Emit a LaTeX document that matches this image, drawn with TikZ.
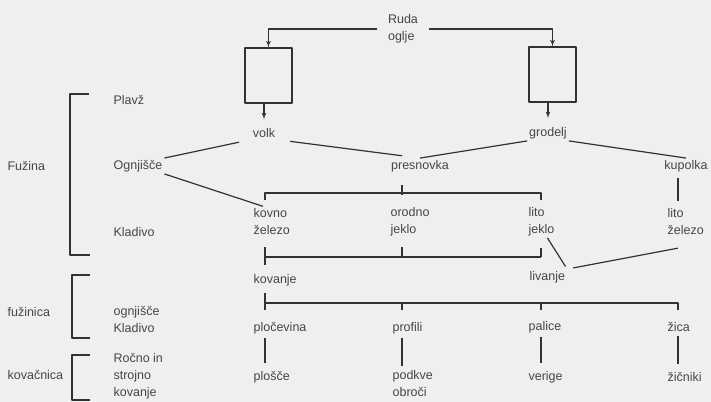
\documentclass[tikz,border=0pt]{standalone}
\usepackage{fontspec}
\setmainfont{Liberation Sans}
\usepackage{tikz}
\usetikzlibrary{arrows,shapes}
\definecolor{bggray}{RGB}{239,239,237}
\definecolor{inkgray}{RGB}{50,50,50}
\definecolor{txtgray}{RGB}{70,70,70}

\begin{document}
\begin{tikzpicture}[>=latex',line join=bevel,line width=1.2bp,draw=inkgray,
  every node/.style={font=\fontsize{12.5bp}{17bp}\selectfont,text=txtgray,inner sep=1.5bp},
  lbl/.style={anchor=west,align=left},
  furnace/.style={draw=inkgray,minimum width=47bp,minimum height=55bp},]
%%
\fill[bggray] (0,0) rectangle (711bp,402bp);
\useasboundingbox (0,0) rectangle (711bp,402bp);
%% columns of the lower part
\coordinate (colA) at (265bp,0bp);
\coordinate (colB) at (402bp,0bp);
\coordinate (colC) at (541bp,0bp);
\coordinate (colD) at (678bp,0bp);
%%
\node (ruda) at (403bp,373bp) [inner xsep=10bp,align=left] {Ruda\\oglje};
  \node (boxL) at (268.5bp,326.5bp) [furnace] {};
  \node (boxR) at (552.5bp,327.5bp) [furnace] {};
  \node (volk) at (264bp,269bp) {volk};
  \node (grodelj) at (548bp,269bp) {grodelj};
  \node (plavz) at (111.5bp,302bp) [lbl] {Plavž};
  \node (fuzina) at (5.5bp,236bp) [lbl] {Fužina};
  \node (ognjisce) at (138bp,236bp) {Ognjišče};
  \node (presnovka) at (420bp,236bp) {presnovka};
  \node (kupolka) at (686bp,236bp) {kupolka};
  \node (kovno) at (251.5bp,180.5bp) [lbl] {kovno\\železo};
  \node (orodno) at (388.5bp,180.5bp) [lbl] {orodno\\jeklo};
  \node (litojeklo) at (526.5bp,180.5bp) [lbl] {lito\\jeklo};
  \node (litozelezo) at (665.5bp,180.5bp) [lbl] {lito\\železo};
  \node (kladivo) at (111.5bp,170bp) [lbl] {Kladivo};
  \node (kovanje) at (251.5bp,122bp) [lbl] {kovanje};
  \node (livanje) at (527.5bp,125bp) [lbl] {livanje};
  \node (fuzinica) at (5.5bp,90bp) [lbl] {fužinica};
  \node (ognjkladivo) at (111.5bp,82.5bp) [lbl] {ognjišče\\Kladivo};
  \node (plocevina) at (251.5bp,74bp) [lbl] {pločevina};
  \node (profili) at (390.5bp,74bp) [lbl] {profili};
  \node (palice) at (526.5bp,75bp) [lbl] {palice};
  \node (zica) at (665.5bp,75bp) [lbl] {žica};
  \node (plosce) at (251.5bp,25bp) [lbl] {plošče};
  \node (podkve) at (390.5bp,18.5bp) [lbl] {podkve\\obroči};
  \node (verige) at (526.5bp,25bp) [lbl] {verige};
  \node (zicniki) at (665.5bp,25bp) [lbl] {žičniki};
  \node (kovacnica) at (5.5bp,27bp) [lbl] {kovačnica};
  \node (rocno) at (111.5bp,26bp) [lbl] {Ročno in\\strojno\\kovanje};
%% ore to the furnaces
  \draw [->] (ruda.west) -| (boxL.north);
  \draw [->] (ruda.east) -| (boxR.north);
  \draw [->,shorten >=7bp] (boxL.south -| volk.north) -- (volk.north);
  \draw [->,shorten >=7bp] (boxR.south -| grodelj.north) -- (grodelj.north);
%% products of the furnaces
  \draw [shorten >=12bp] (ognjisce.north east) -- (volk.south west);
  \draw [shorten <=13bp,shorten >=18bp] (volk.south east) -- (presnovka.north);
  \draw (presnovka.north) -- (grodelj.south west);
  \draw (grodelj.south east) -- (kupolka.north);
  \draw (ognjisce.south east) -- (kovno.120);
  \draw [shorten <=4bp,shorten >=5.5bp] (kupolka.south -| colD) -- (litozelezo.north -| colD);
%% first bar
  \draw (colA |- 0,202bp) -- (colA |- 0,209bp) -| (colC |- 0,202bp);
  \draw [shorten <=11bp,shorten >=-2bp] (presnovka.south -| colB) -- (colB |- 0,209bp);
%% second bar
  \draw (colA |- 0,145bp) -- (colC |- 0,145bp);
  \draw [shorten <=10.5bp,shorten >=7.5bp] (kovno.south -| colA) -- (kovanje.north -| colA);
  \draw [shorten <=9.5bp] (orodno.south -| colB) -- (colB |- 0,145bp);
  \draw [shorten <=10.5bp] (litojeklo.south -| colC) -- (colC |- 0,145bp);
  \draw [shorten >=3bp] (litojeklo.-70) -- (livanje.north east);
  \draw [shorten <=6bp,shorten >=8bp] (livanje.north east) -- ([yshift=-10bp]litozelezo.south);
%% third bar
  \draw [shorten <=5.5bp,shorten >=10.5bp] (kovanje.south -| colA) -- (plocevina.north -| colA);
  \draw (colA |- 0,99bp) -- (colD |- 0,99bp) -- (colD |- 0,92bp);
  \draw (colB |- 0,99bp) -- (colB |- 0,92bp);
  \draw (colC |- 0,99bp) -- (colC |- 0,92bp);
  \draw [shorten <=2bp,shorten >=6bp] (plocevina.south -| colA) -- (plosce.north -| colA);
  \draw [shorten <=2bp,shorten >=2bp] (profili.south -| colB) -- (podkve.north -| colB);
  \draw [shorten <=2bp,shorten >=6bp] (palice.south -| colC) -- (verige.north -| colC);
  \draw [shorten <=2bp,shorten >=6bp] (zica.south -| colD) -- (zicniki.north -| colD);
%% brackets on the left
  \draw (89bp,308bp) -- (70bp,308bp) -- (70bp,147bp) -- (90bp,147bp);
  \draw (90bp,127bp) -- (72bp,127bp) -- (72bp,64bp) -- (90bp,64bp);
  \draw (90bp,47bp) -- (72bp,47bp) -- (72bp,2bp) -- (90bp,2bp);
%
\end{tikzpicture}
\end{document}
